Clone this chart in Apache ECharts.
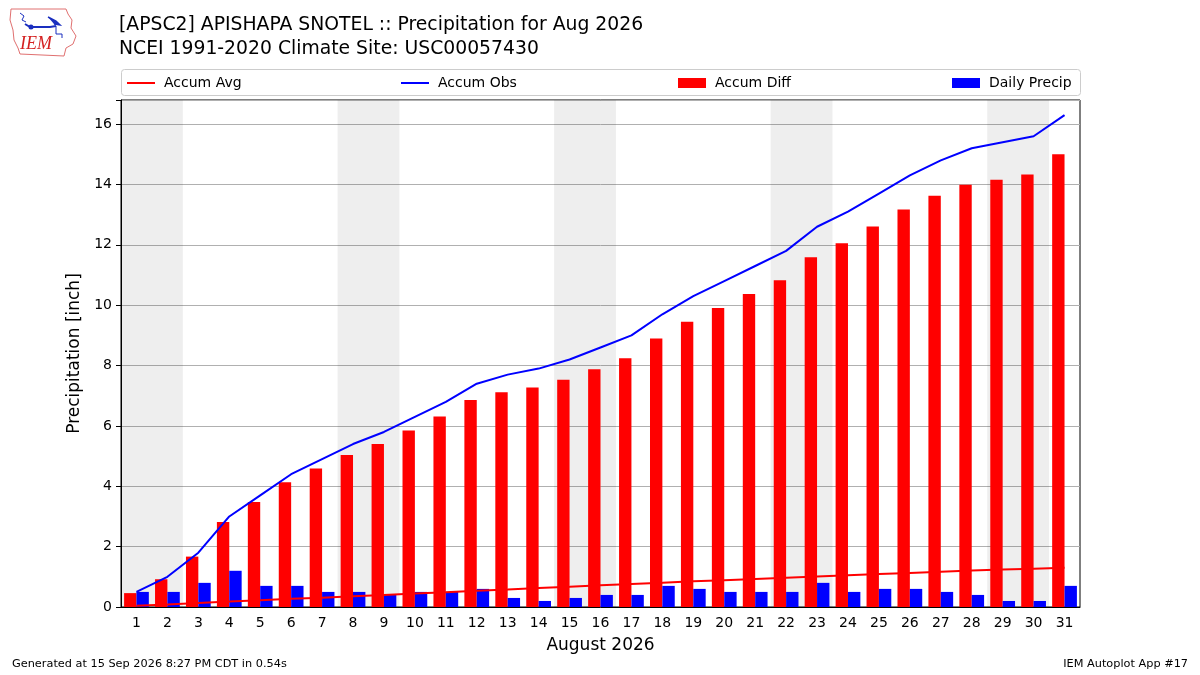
<!DOCTYPE html>
<html>
<head>
<meta charset="utf-8">
<title>APSC2 Precipitation Aug 2026</title>
<script src="https://cdn.jsdelivr.net/npm/echarts@6/dist/echarts.min.js"></script>
<style>
  html, body { margin: 0; padding: 0; background: #fff; }
  #chart { width: 1200px; height: 675px; }
</style>
</head>
<body>
<div id="chart"></div>
<script>
// --- data ---
var days = ['1','2','3','4','5','6','7','8','9','10','11','12','13','14','15','16',
            '17','18','19','20','21','22','23','24','25','26','27','28','29','30','31'];

// daily observed precip (inch)
var dailyPrecip = [0.5, 0.5, 0.8, 1.2, 0.7, 0.7, 0.5, 0.5, 0.4, 0.5, 0.5, 0.6, 0.3, 0.2, 0.3, 0.4,
                   0.4, 0.7, 0.6, 0.5, 0.5, 0.5, 0.8, 0.5, 0.6, 0.6, 0.5, 0.4, 0.2, 0.2, 0.7];

// accumulated observed
var accumObs = [0.5, 1.0, 1.8, 3.0, 3.7, 4.4, 4.9, 5.4, 5.8, 6.3, 6.8, 7.4, 7.7, 7.9, 8.2, 8.6,
                9.0, 9.7, 10.3, 10.8, 11.3, 11.8, 12.6, 13.1, 13.7, 14.3, 14.8, 15.2, 15.4, 15.6, 16.3];

// accumulated climatology (NCEI 1991-2020)
var accumAvg = [0.04, 0.08, 0.13, 0.18, 0.22, 0.27, 0.31, 0.36, 0.40, 0.45, 0.49, 0.54, 0.58, 0.63, 0.67, 0.72,
                0.76, 0.80, 0.85, 0.89, 0.93, 0.97, 1.01, 1.05, 1.09, 1.13, 1.17, 1.21, 1.24, 1.27, 1.30];

// accumulated departure
var accumDiff = [0.46, 0.92, 1.67, 2.82, 3.48, 4.13, 4.59, 5.04, 5.40, 5.85, 6.31, 6.86, 7.12, 7.27, 7.53, 7.88,
                 8.24, 8.90, 9.45, 9.91, 10.37, 10.83, 11.59, 12.05, 12.61, 13.17, 13.63, 13.99, 14.16, 14.33, 15.00];

// first day (Saturday) of each weekend
var weekendStarts = [1, 8, 15, 22, 29];

var titleLines = ['[APSC2] APISHAPA SNOTEL :: Precipitation for Aug 2026',
                  'NCEI 1991-2020 Climate Site: USC00057430'];

var FONT = 'DejaVu Sans';

var chart = echarts.init(document.getElementById('chart'), null, { renderer: 'canvas' });

// weekend bands on a hidden value axis so they span whole day cells
var weekendAreas = weekendStarts.map(function (d) {
    return [{ xAxis: d - 0.5 }, { xAxis: d + 1.5 }];
});

function makeLegend(name, color, left, h) {
    return {
        data: [{ name: name, icon: 'rect' }],
        left: left, top: 76,
        padding: 0,
        itemWidth: 28, itemHeight: h,
        itemGap: 0,
        itemStyle: { color: color },
        textStyle: { fontFamily: FONT, fontSize: 14, color: '#000', padding: [0, 0, 0, 4] },
        selectedMode: false
    };
}

var option = {
    animation: false,
    backgroundColor: '#fff',
    title: {
        text: titleLines.join('\n'),
        left: 119, top: 13,
        padding: 0,
        textStyle: { fontFamily: FONT, fontSize: 18.8, fontWeight: 'normal', color: '#000', lineHeight: 24 }
    },
    legend: [
        makeLegend('Accum Avg', '#ff0000', 127, 2),
        makeLegend('Accum Obs', '#0000ff', 401, 2),
        makeLegend('Accum Diff', '#ff0000', 678, 10),
        makeLegend('Daily Precip', '#0000ff', 952, 10)
    ],
    grid: {
        left: 121, right: 120, top: 100, bottom: 68,
        show: true, borderColor: '#000', borderWidth: 1, backgroundColor: 'transparent'
    },
    xAxis: [
        {
            type: 'category',
            data: days,
            boundaryGap: true,
            name: 'August 2026',
            nameLocation: 'middle',
            nameGap: 30,
            nameTextStyle: { fontFamily: FONT, fontSize: 17, color: '#000' },
            axisLine: { lineStyle: { color: '#000' } },
            axisTick: { alignWithLabel: true, length: 5, lineStyle: { color: '#000' } },
            axisLabel: { fontFamily: FONT, fontSize: 14, color: '#000', margin: 9, interval: 0 },
            splitLine: { show: false }
        },
        {
            type: 'value',
            min: 0.5, max: 31.5,
            show: false
        }
    ],
    yAxis: {
        type: 'value',
        min: 0, max: 16.8,
        interval: 2,
        name: 'Precipitation [inch]',
        nameLocation: 'middle',
        nameRotate: 90,
        nameGap: 35,
        nameTextStyle: { fontFamily: FONT, fontSize: 17, color: '#000' },
        axisLine: { show: true, lineStyle: { color: '#000' } },
        axisTick: { show: true, length: 5, lineStyle: { color: '#000' } },
        axisLabel: {
            fontFamily: FONT, fontSize: 14, color: '#000', margin: 9,
            formatter: function (v) { return (Math.abs(v % 2) < 1e-6) ? String(v) : ''; }
        },
        splitLine: { show: true, lineStyle: { color: '#b0b0b0', width: 1 } }
    },
    series: [
        {
            name: 'weekends',
            type: 'line',
            xAxisIndex: 1,
            data: [],
            silent: true,
            z: 0,
            markArea: {
                silent: true,
                itemStyle: { color: 'rgba(0,0,0,0.065)' },
                data: weekendAreas
            }
        },
        {
            name: 'Accum Diff',
            type: 'bar',
            data: accumDiff,
            barWidth: '40%',
            barGap: '0%',
            itemStyle: { color: '#ff0000' },
            z: 2
        },
        {
            name: 'Daily Precip',
            type: 'bar',
            data: dailyPrecip,
            barWidth: '40%',
            barGap: '0%',
            itemStyle: { color: '#0000ff' },
            z: 2
        },
        {
            name: 'Accum Avg',
            type: 'line',
            data: accumAvg,
            symbol: 'none',
            lineStyle: { color: '#ff0000', width: 2 },
            itemStyle: { color: '#ff0000' },
            z: 3
        },
        {
            name: 'Accum Obs',
            type: 'line',
            data: accumObs,
            symbol: 'none',
            lineStyle: { color: '#0000ff', width: 2 },
            itemStyle: { color: '#0000ff' },
            z: 3
        }
    ],
    graphic: [
        // legend frame
        {
            type: 'rect', left: 121, top: 69, z: -1,
            shape: { width: 959, height: 26, r: 3 },
            style: { fill: '#fff', stroke: '#cccccc', lineWidth: 1 }
        },
        // IEM logo (rough)
        {
            type: 'polyline', z: 5,
            shape: { points: [[11, 9], [66, 9], [68, 14], [72, 20], [71, 28], [76, 36], [73, 44], [66, 48], [64, 56], [20, 54], [18, 48], [14, 40], [13, 30], [10, 20], [11, 9]] },
            style: { stroke: '#e07070', fill: 'none', lineWidth: 1 }
        },
        {
            type: 'polyline', z: 6,
            shape: { points: [[25, 24], [30, 27], [50, 27], [56, 26]] },
            style: { stroke: '#1a2fbf', fill: 'none', lineWidth: 2 }
        },
        {
            type: 'polyline', z: 6,
            shape: { points: [[20, 13], [24, 16], [22, 20], [26, 22]] },
            style: { stroke: '#1a2fbf', fill: 'none', lineWidth: 1 }
        },
        {
            type: 'polyline', z: 6,
            shape: { points: [[48, 17], [56, 21], [60, 25], [54, 24]] },
            style: { stroke: '#1a2fbf', fill: '#1a2fbf', lineWidth: 1.5 }
        },
        {
            type: 'polyline', z: 6,
            shape: { points: [[56, 26], [56, 34], [62, 34], [62, 38]] },
            style: { stroke: '#1a2fbf', fill: 'none', lineWidth: 1 }
        },
        {
            type: 'circle', z: 6,
            shape: { cx: 31, cy: 27, r: 2.5 },
            style: { fill: '#1a2fbf' }
        },
        {
            type: 'text', left: 20, top: 35, z: 6,
            style: { text: 'IEM', fill: '#d42020', font: 'italic 18px "Liberation Serif", serif' }
        },
        // footer
        {
            type: 'text', left: 12, top: 659,
            style: { text: 'Generated at 15 Sep 2026 8:27 PM CDT in 0.54s', fill: '#000', font: '11.3px "DejaVu Sans"' }
        },
        {
            type: 'text', right: 12, top: 659,
            style: { text: 'IEM Autoplot App #17', fill: '#000', font: '11.3px "DejaVu Sans"' }
        }
    ]
};

option && chart.setOption(option);
</script>
</body>
</html>
